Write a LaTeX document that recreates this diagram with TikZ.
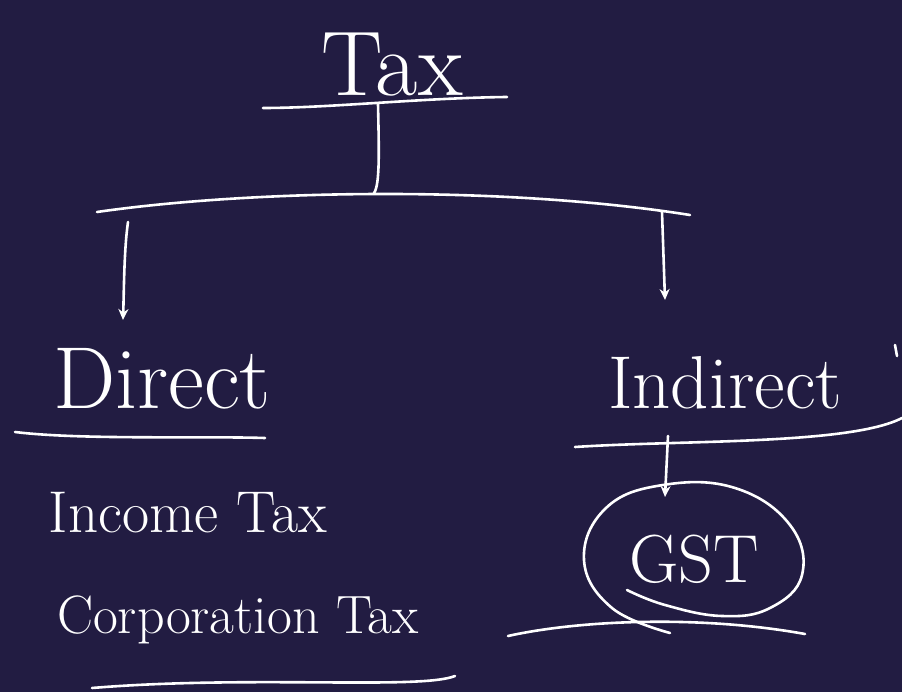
\documentclass[tikz,border=0pt]{standalone}
\usetikzlibrary{arrows.meta}
\definecolor{board}{RGB}{34,28,66}
\tikzset{
  ink/.style={draw=white, line width=2.6pt, line cap=round, line join=round},
  lbl/.style={text=white, inner sep=0pt, anchor=base},
  arr/.style={ink, -{Stealth[length=11pt,width=10pt]}}
}
\begin{document}
\begin{tikzpicture}[x=1pt,y=-1pt]
\fill[board] (0,0) rectangle (902,692);
\useasboundingbox (0,0) rectangle (902,692);

% labels
\node[lbl] (tax) at (392,96) {\fontsize{92}{92}\selectfont Tax};
\node[lbl] (direct) at (162,408) {\fontsize{88}{88}\selectfont Direct};
\node[lbl] (indirect) at (725,408) {\fontsize{75}{75}\selectfont Indirect};
\node[lbl] (income) at (188,532) {\fontsize{59}{59}\selectfont Income Tax};
\node[lbl] (corp) at (238,633) {\fontsize{54}{54}\selectfont Corporation Tax};
\node[lbl] (gst) at (694,582) {\fontsize{68}{68}\selectfont GST};

% named points
\coordinate (taxL) at (263,108);
\coordinate (taxR) at (507,97);
\coordinate (trunkTop) at (378,104);
\coordinate (trunkBot) at (374,193);
\coordinate (barL) at (97,212);
\coordinate (barR) at (690,215);
\coordinate (dTop) at (128,222);
\coordinate (dTip) at (123,320);
\coordinate (iTop) at (662,212);
\coordinate (iTip) at (665,300);
\coordinate (gTop) at (668,436);
\coordinate (gTip) at (665,497);

% Tax underline and trunk
\draw[ink] (taxL) .. controls (330,108) and (420,98) .. (taxR);
\draw[ink] (trunkTop) .. controls (379,150) and (380,185) .. (trunkBot);
% branch bar
\draw[ink] (barL) .. controls (250,190) and (500,185) .. (barR);
% arrows to Direct / Indirect
\draw[arr] (dTop) .. controls (124,250) and (124,290) .. (dTip);
\draw[arr] (iTop) -- (iTip);

% underlines
\draw[ink] (15,432) .. controls (80,440) and (200,436) .. (265,438);
\draw[ink] (575,447) .. controls (680,440) and (850,445) .. (902,418);
\draw[ink] (92,688) .. controls (250,675) and (420,690) .. (455,676);
% arrow to GST
\draw[arr] (gTop) -- (gTip);
% GST ellipse (spiral stroke)
\draw[ink] plot[smooth, tension=0.7] coordinates {
  (670,633) (612,608) (584,560) (606,508) (663,485) (735,488)
  (790,525) (802,575) (770,608) (722,616) (665,605) (627,590)};
% line under ellipse
\draw[ink] (508,636) .. controls (580,620) and (700,615) .. (805,634);
% small stroke at the right edge
\draw[ink] (895,345) -- (897,356);
\end{tikzpicture}
\end{document}
